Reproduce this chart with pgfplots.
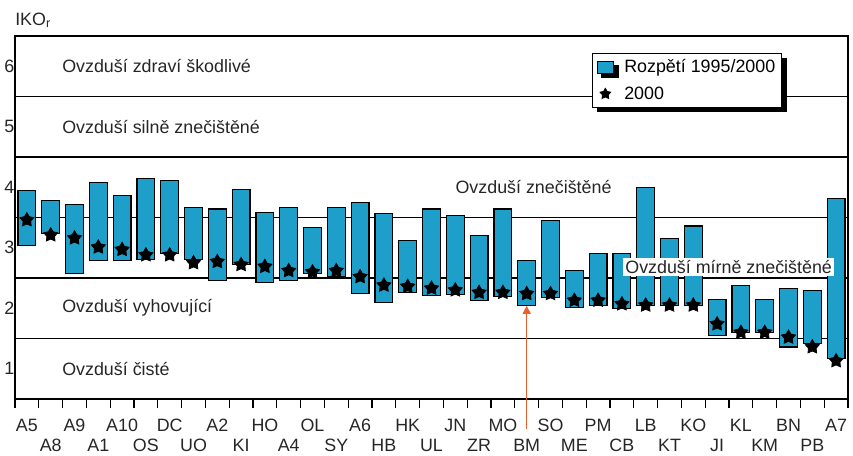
\documentclass[border=0pt]{standalone}
\usepackage{fontspec}
\setmainfont{Liberation Sans}
\usepackage{pgfplots}
\usepackage{pgfplotstable}
\pgfplotsset{compat=1.18}
\usetikzlibrary{shadows,arrows.meta}
\definecolor{barblue}{RGB}{30,159,201}
\definecolor{arrorange}{RGB}{232,96,44}
\newcommand{\fs}{\fontsize{13.4}{16}\selectfont}

\pgfdeclareplotmark{fstar}{%
  \pgfpathmoveto{\pgfpointpolar{90}{\pgfplotmarksize}}%
  \pgfpathlineto{\pgfpointpolar{126}{0.55\pgfplotmarksize}}%
  \pgfpathlineto{\pgfpointpolar{162}{\pgfplotmarksize}}%
  \pgfpathlineto{\pgfpointpolar{198}{0.55\pgfplotmarksize}}%
  \pgfpathlineto{\pgfpointpolar{234}{\pgfplotmarksize}}%
  \pgfpathlineto{\pgfpointpolar{270}{0.55\pgfplotmarksize}}%
  \pgfpathlineto{\pgfpointpolar{306}{\pgfplotmarksize}}%
  \pgfpathlineto{\pgfpointpolar{342}{0.55\pgfplotmarksize}}%
  \pgfpathlineto{\pgfpointpolar{18}{\pgfplotmarksize}}%
  \pgfpathlineto{\pgfpointpolar{54}{0.55\pgfplotmarksize}}%
  \pgfpathclose
  \pgfusepathqfillstroke
}

\pgfplotstableread{
x low span high star
0 3.03 0.91 3.94 3.46
1 3.24 0.54 3.78 3.21
2 2.57 1.15 3.72 3.16
3 2.79 1.29 4.08 3.01
4 2.79 1.07 3.86 2.97
5 2.81 1.33 4.14 2.88
6 2.90 1.21 4.11 2.88
7 2.81 0.86 3.67 2.75
8 2.46 1.18 3.64 2.77
9 2.73 1.24 3.97 2.72
10 2.43 1.16 3.59 2.69
11 2.46 1.21 3.67 2.62
12 2.57 0.77 3.34 2.60
13 2.52 1.15 3.67 2.62
14 2.24 1.51 3.75 2.52
15 2.10 1.46 3.56 2.38
16 2.26 0.86 3.12 2.36
17 2.21 1.43 3.64 2.33
18 2.23 1.30 3.53 2.30
19 2.13 1.07 3.20 2.26
20 2.19 1.45 3.64 2.26
21 2.04 0.75 2.79 2.24
22 2.18 1.27 3.45 2.24
23 2.02 0.60 2.62 2.13
24 2.04 0.86 2.90 2.13
25 1.99 0.91 2.90 2.07
26 2.04 1.96 4.00 2.05
27 2.04 1.11 3.15 2.05
28 2.04 1.32 3.36 2.05
29 1.55 0.60 2.15 1.74
30 1.60 0.77 2.37 1.60
31 1.60 0.55 2.15 1.60
32 1.36 0.96 2.32 1.52
33 1.41 0.88 2.29 1.36
34 1.17 2.64 3.81 1.13
}\datatab

\begin{document}
\begin{tikzpicture}
\begin{axis}[
  at={(0,0)}, anchor=south west,
  width=624.75pt, height=272.25pt, scale only axis,
  xmin=-0.5, xmax=34.5, ymin=0.5, ymax=6.5,
  ybar stacked, bar width=0.75,
  axis line style={line width=0.9pt, black},
  xtick={0,2,...,34},
  xticklabels={A5,A9,A10,DC,A2,HO,OL,A6,HK,JN,MO,SO,PM,LB,KO,KL,BN,A7},
  xticklabel style={inner ysep=1pt, text height=9.6pt, text depth=0pt, yshift=-13.5pt},
  extra x ticks={1,3,...,33},
  extra x tick labels={A8,A1,OS,UO,KI,A4,SY,HB,UL,ZR,BM,ME,CB,KT,JI,KM,PB},
  extra x tick style={tick label style={yshift=-15pt}},
  minor xtick={-0.5,0.5,...,34.5},
  xtick pos=bottom, ytick pos=left,
  tick align=outside,
  major tick length=0pt, minor tick length=6.75pt,
  minor tick style={line width=0.9pt, black},
  ytick={1,2,3,4,5,6},
  yticklabel style={xshift=3pt},
  extra y ticks={1.5,2.5,3.5,4.5,5.5},
  extra y tick labels={,,,,},
  extra y tick style={grid=major, major grid style={line width=0.8pt, black}},
  /pgf/number format/assume math mode=true,
  tick label style={font=\fs, text=black!85},
]
\addplot[draw=none, fill=none] table[x=x, y=low]{\datatab};
\addplot[draw=black, line width=0.8pt, fill=barblue] table[x=x, y=span]{\datatab};
\end{axis}

\begin{axis}[
  at={(0,0)}, anchor=south west,
  width=624.75pt, height=272.25pt, scale only axis,
  xmin=-0.5, xmax=34.5, ymin=0.5, ymax=6.5,
  hide axis, clip=false,
  legend style={at={(0.6927,0.9532)}, anchor=north west, draw=black,
    line width=0.8pt, fill=white, font=\fs, row sep=5pt, inner xsep=3pt, inner ysep=2.5pt,
    drop shadow={shadow xshift=3.5pt, shadow yshift=-3.5pt, fill=black, opacity=1}},
  legend cell align=left,
]
\addlegendimage{legend image code/.code={\draw[fill=barblue, draw=black, line width=0.8pt] (0pt,-4.5pt) rectangle (12.5pt,4.5pt); \path (0pt,0pt) (18pt,0pt);}}
\addlegendentry{Rozpětí 1995/2000}
\addplot[only marks, mark=fstar, mark size=5.5pt, mark options={line width=0.6pt, fill=black, draw=black},
  legend image code/.code={\pgfplotsset{mark size=4.2pt}\draw[mark=fstar, fill=black, draw=black, line width=0.6pt] plot coordinates {(6.2pt,0pt)}; \path (0pt,0pt) (18pt,0pt);}]
  table[x=x, y=star]{\datatab};
\addlegendentry{2000}
\addplot[arrorange, line width=1pt, mark=none, -{Triangle[length=6pt, width=6pt]}] coordinates {(21,0.0) (21,2.04)};

\node[anchor=west, inner sep=0pt, font=\fs, text=black!85] at (axis cs:1.475,6) {Ovzduší zdraví škodlivé};
\node[anchor=west, inner sep=0pt, font=\fs, text=black!85] at (axis cs:1.475,5) {Ovzduší silně znečištěné};
\node[anchor=west, inner sep=0pt, font=\fs, text=black!85] at (axis cs:18.0,4) {Ovzduší znečištěné};
\node[anchor=west, inner sep=1.5pt, fill=white, font=\fs, text=black!85] at (axis cs:25.05,2.68) {Ovzduší mírně znečištěné};
\node[anchor=west, inner sep=0pt, font=\fs, text=black!85] at (axis cs:1.475,2) {Ovzduší vyhovující};
\node[anchor=west, inner sep=0pt, font=\fs, text=black!85] at (axis cs:1.475,1) {Ovzduší čisté};
\node[anchor=base west, inner sep=0pt, font=\fs, text=black!85, yshift=8.25pt] at (rel axis cs:0,1) {IKO\textsubscript{r}};
\end{axis}

\pgfresetboundingbox
\useasboundingbox (-11.25pt,-42.75pt) rectangle (628.5pt,299.25pt);
\end{tikzpicture}
\end{document}
